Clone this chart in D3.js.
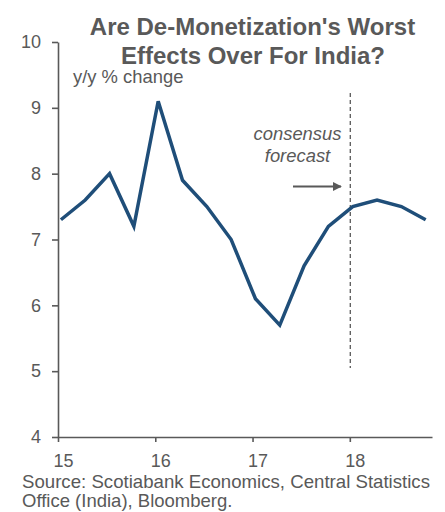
<!DOCTYPE html>
<html>
<head>
<meta charset="utf-8">
<script src="https://cdn.jsdelivr.net/npm/d3@7"></script>
<style>
  body { margin: 0; background: #fff; }
  text { font-family: "Liberation Sans", Arial, sans-serif; fill: #595959; }
</style>
</head>
<body>
<div id="graphic"></div>
<script>
// quarterly y/y real GDP growth, India (last four = consensus forecast)
var quarters = ["2015Q1", "2015Q2", "2015Q3", "2015Q4", "2016Q1", "2016Q2", "2016Q3", "2016Q4",
                "2017Q1", "2017Q2", "2017Q3", "2017Q4", "2018Q1", "2018Q2", "2018Q3", "2018Q4"];
var growth = [7.3, 7.6, 8.0, 7.2, 9.1, 7.9, 7.5, 7.0, 6.1, 5.7, 6.6, 7.2, 7.5, 7.6, 7.5, 7.3];
var yTicks = [4, 5, 6, 7, 8, 9, 10];
var xTicks = [15, 16, 17, 18];
var forecastStart = 18;

var width = 445, height = 512;
var margin = { top: 42, right: 13, bottom: 75, left: 58 };

var svg = d3.select("#graphic").append("svg")
  .attr("width", width)
  .attr("height", height);

// quarter -> fractional year (2-digit), plotted a touch after quarter start
function qToYear(q) {
  return +q.slice(2, 4) + (+q.slice(5) - 1) * 0.25 + 0.03;
}

var data = quarters.map(function (q, i) { return { x: qToYear(q), v: growth[i] }; });

var x = d3.scaleLinear()
  .domain([15, 18.845])
  .range([margin.left, width - margin.right]);

var y = d3.scaleLinear()
  .domain([4, 10])
  .range([height - margin.bottom, margin.top]);

// y axis
var yAxis = svg.append("g")
  .attr("transform", "translate(" + margin.left + ",0)")
  .call(d3.axisLeft(y).tickValues(yTicks).tickFormat(d3.format("d"))
    .tickSize(6).tickSizeOuter(0).tickPadding(11));

// x axis
var xAxis = svg.append("g")
  .attr("transform", "translate(0," + (height - margin.bottom) + ")")
  .call(d3.axisBottom(x).tickValues(xTicks).tickFormat(d3.format("d"))
    .tickSize(5).tickSizeOuter(0).tickPadding(12));

[yAxis, xAxis].forEach(function (g) {
  g.select(".domain").attr("stroke", "#595959").attr("stroke-width", 1.6);
  g.selectAll(".tick line").attr("stroke", "#595959").attr("stroke-width", 1.6);
  g.selectAll(".tick text")
    .attr("fill", "#595959")
    .style("font-family", "'Liberation Sans', Arial, sans-serif")
    .style("font-size", "18px");
});
xAxis.selectAll(".tick text").attr("dx", 5);

// forecast divider
svg.append("line")
  .attr("x1", x(forecastStart + 0.005)).attr("x2", x(forecastStart + 0.005))
  .attr("y1", 93).attr("y2", y(5.05))
  .attr("stroke", "#595959")
  .attr("stroke-width", 1.3)
  .attr("stroke-dasharray", "4,3");

svg.append("text")
  .attr("x", 297.5).attr("y", 140)
  .attr("text-anchor", "middle")
  .style("font-style", "italic")
  .style("font-size", "18.4px")
  .text("consensus");
svg.append("text")
  .attr("x", 297.5).attr("y", 162)
  .attr("text-anchor", "middle")
  .style("font-style", "italic")
  .style("font-size", "18.4px")
  .text("forecast");

// arrow
svg.append("defs").append("marker")
  .attr("id", "arrow")
  .attr("viewBox", "0 0 10 10")
  .attr("refX", 9).attr("refY", 5)
  .attr("markerWidth", 5).attr("markerHeight", 5)
  .attr("orient", "auto")
  .append("path")
  .attr("d", "M0,0 L10,5 L0,10 z")
  .attr("fill", "#595959");

svg.append("line")
  .attr("x1", 293).attr("x2", 341)
  .attr("y1", 186.5).attr("y2", 186.5)
  .attr("stroke", "#595959")
  .attr("stroke-width", 1.8)
  .attr("marker-end", "url(#arrow)");

// the series
var line = d3.line()
  .x(function (d) { return x(d.x); })
  .y(function (d) { return y(d.v); });

svg.append("path")
  .datum(data)
  .attr("fill", "none")
  .attr("stroke", "#1F4E79")
  .attr("stroke-width", 3.5)
  .attr("stroke-linejoin", "miter")
  .attr("d", line);

// titles
svg.append("text")
  .attr("x", 252.5).attr("y", 34.5)
  .attr("text-anchor", "middle")
  .style("font-weight", "bold")
  .style("font-size", "24px")
  .text("Are De-Monetization's Worst");
svg.append("text")
  .attr("x", 253).attr("y", 63.5)
  .attr("text-anchor", "middle")
  .style("font-weight", "bold")
  .style("font-size", "24px")
  .text("Effects Over For India?");

svg.append("text")
  .attr("x", 73).attr("y", 82.5)
  .style("font-size", "18.4px")
  .text("y/y % change");

svg.append("text")
  .attr("x", 22).attr("y", 487.5)
  .attr("textLength", 408)
  .attr("lengthAdjust", "spacingAndGlyphs")
  .style("font-size", "18.5px")
  .text("Source: Scotiabank Economics, Central Statistics");
svg.append("text")
  .attr("x", 22).attr("y", 507)
  .style("font-size", "18.5px")
  .text("Office (India), Bloomberg.");
</script>
</body>
</html>
